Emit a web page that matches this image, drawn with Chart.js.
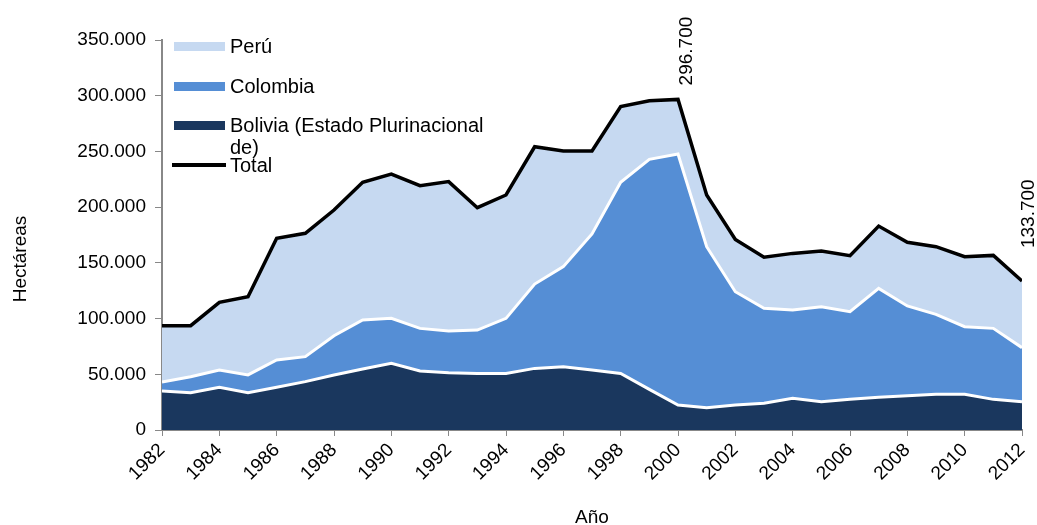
<!DOCTYPE html>
<html>
<head>
<meta charset="utf-8">
<script src="https://cdn.jsdelivr.net/npm/chart.js@4/dist/chart.umd.min.js"></script>
<style>
  body { margin: 0; background: #fff; }
  #wrap { position: relative; width: 1037px; height: 525px; }
  #legend { position: absolute; left: 0; top: 0; font-family: "Liberation Sans", Arial, sans-serif; font-size: 20px; color: #000; }
  .item { position: absolute; left: 172px; }
  .sw { position: absolute; left: 2px; width: 51px; height: 9px; }
  .txt { position: absolute; left: 58px; width: 275px; line-height: 22px; white-space: normal; }
</style>
</head>
<body>
<div id="wrap">
  <canvas id="chart" width="1037" height="525"></canvas>
  <div id="legend"></div>
</div>
<script>
// Años
const years = [1982, 1983, 1984, 1985, 1986, 1987, 1988, 1989, 1990, 1991, 1992, 1993, 1994, 1995, 1996,
  1997, 1998, 1999, 2000, 2001, 2002, 2003, 2004, 2005, 2006, 2007, 2008, 2009, 2010, 2011, 2012];

// Hectáreas por país
const bolivia = [35000, 33500, 38300, 33500, 38300, 43400, 49400, 54700, 59800, 52900, 51400, 50800, 50800, 55300, 56800,
  53800, 50800, 36500, 22400, 20000, 22400, 24000, 28400, 25400, 27500, 29300, 30800, 32000, 32000, 27500, 25400];
const colombia = [8000, 14300, 15500, 15900, 24500, 22400, 35200, 44000, 40400, 38300, 37400, 38900, 49400, 75700, 89800,
  122100, 171500, 206400, 225300, 144500, 101700, 85200, 79300, 85300, 78700, 97800, 80500, 71800, 60700, 63700, 48500];
const peru = [50600, 45800, 60800, 70200, 109200, 110700, 112800, 123600, 129500, 128100, 134100, 109800, 110700, 123200, 103800,
  74500, 67900, 52600, 49000, 46400, 46900, 45800, 50800, 49900, 50200, 55900, 57100, 60700, 62800, 65500, 59800];
const total = [93600, 93600, 114600, 119600, 172000, 176500, 197400, 222300, 229700, 219300, 222900, 199500, 210900, 254200, 250400,
  250400, 290200, 295500, 296700, 210900, 171000, 155000, 158500, 160600, 156400, 183000, 168400, 164500, 155500, 156700, 133700];

// Valores rotulados
const labelled = [
  { year: 2000, value: 296700, dx: 9, gap: 14 },
  { year: 2012, value: 133700, dx: 7, gap: 33 }
];

const FONT = '"Liberation Sans", Arial, sans-serif';
const colors = { peru: '#C6D9F1', colombia: '#558ED5', bolivia: '#1A375E', total: '#000000' };

const pts = arr => years.map((y, i) => ({ x: y, y: arr[i] }));
const fmt = v => String(v).replace(/\B(?=(\d{3})+(?!\d))/g, '.');

// Legend (HTML)
const legendItems = [
  { text: 'Perú', color: colors.peru, top: 42, type: 'box' },
  { text: 'Colombia', color: colors.colombia, top: 82, type: 'box' },
  { text: 'Bolivia (Estado Plurinacional de)', color: colors.bolivia, top: 121, type: 'box' },
  { text: 'Total', color: colors.total, top: 163, type: 'line' }
];
const legendEl = document.getElementById('legend');
legendItems.forEach(it => {
  const d = document.createElement('div');
  d.className = 'item';
  d.style.top = it.top + 'px';
  const sw = document.createElement('div');
  sw.className = 'sw';
  sw.style.background = it.color;
  if (it.type === 'line') { sw.style.height = '3.5px'; sw.style.left = '0px'; sw.style.width = '54px'; }
  const t = document.createElement('div');
  t.className = 'txt';
  t.style.top = (it.type === 'line' ? -9 : -7) + 'px';
  t.textContent = it.text;
  d.appendChild(sw);
  d.appendChild(t);
  legendEl.appendChild(d);
});

const extras = {
  id: 'extras',
  afterDraw(chart) {
    const ctx = chart.ctx;
    const xs = chart.scales.x, ys = chart.scales.y;
    ctx.save();
    ctx.fillStyle = '#000';
    ctx.font = '19px ' + FONT;
    // y axis title
    ctx.save();
    ctx.translate(21, 259);
    ctx.rotate(-Math.PI / 2);
    ctx.textAlign = 'center';
    ctx.textBaseline = 'middle';
    ctx.fillText('Hectáreas', 0, 0);
    ctx.restore();
    // value labels
    labelled.forEach(l => {
      ctx.save();
      ctx.translate(xs.getPixelForValue(l.year) + l.dx, ys.getPixelForValue(l.value) - l.gap);
      ctx.rotate(-Math.PI / 2);
      ctx.textAlign = 'left';
      ctx.textBaseline = 'middle';
      ctx.fillText(fmt(l.value), 0, 0);
      ctx.restore();
    });
    ctx.restore();
  }
};

new Chart(document.getElementById('chart'), {
  type: 'line',
  data: {
    datasets: [
      { label: 'Bolivia (Estado Plurinacional de)', data: pts(bolivia), backgroundColor: colors.bolivia,
        borderColor: '#ffffff', borderWidth: 3, fill: 'origin', stack: 'paises' },
      { label: 'Colombia', data: pts(colombia), backgroundColor: colors.colombia,
        borderColor: '#ffffff', borderWidth: 3, fill: '-1', stack: 'paises' },
      { label: 'Perú', data: pts(peru), backgroundColor: colors.peru,
        borderColor: colors.peru, borderWidth: 0, fill: '-1', stack: 'paises' },
      { label: 'Total', data: pts(total), borderColor: colors.total, borderWidth: 3.5,
        fill: false, stack: 'total', order: -1 }
    ]
  },
  options: {
    responsive: false,
    animation: false,
    devicePixelRatio: 1,
    layout: { padding: { top: 40, right: 15, left: 0, bottom: 0 } },
    elements: { point: { radius: 0 }, line: { tension: 0, borderJoinStyle: 'miter' } },
    plugins: {
      legend: { display: false },
      tooltip: { enabled: false },
      filler: { drawTime: 'beforeDatasetsDraw' }
    },
    scales: {
      x: {
        type: 'linear',
        min: 1982, max: 2012,
        afterFit: s => { s.height = 95; s.paddingRight = 0; s.paddingLeft = 0; },
        border: { display: true, color: '#888888', width: 2 },
        grid: { display: true, drawOnChartArea: false, drawTicks: true, tickLength: 6, color: '#888888' },
        ticks: {
          stepSize: 2, autoSkip: false, maxRotation: 45, minRotation: 45, padding: 3,
          color: '#000', font: { family: FONT, size: 19 },
          callback: v => String(v)
        },
        title: { display: true, text: 'Año', color: '#000', font: { family: FONT, size: 19 }, padding: { top: 0, bottom: -4 } }
      },
      y: {
        stacked: true,
        min: 0, max: 350000,
        afterFit: s => { s.width = 162; s.paddingTop = 0; s.paddingBottom = 0; },
        border: { display: true, color: '#888888', width: 2 },
        grid: { display: true, drawOnChartArea: false, drawTicks: true, tickLength: 7, color: '#888888' },
        ticks: {
          stepSize: 50000, padding: 9, color: '#000', font: { family: FONT, size: 19 },
          callback: v => fmt(v)
        }
      }
    }
  },
  plugins: [extras]
});
</script>
</body>
</html>
